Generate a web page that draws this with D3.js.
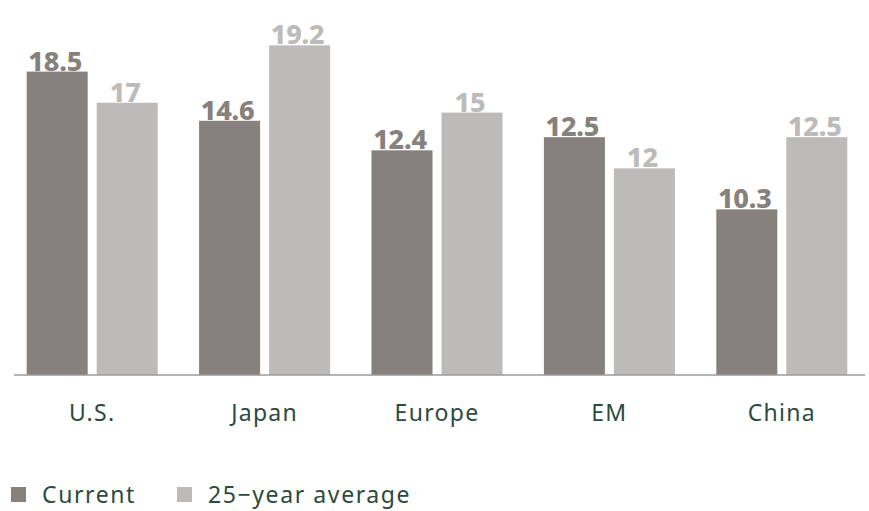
<!DOCTYPE html>
<html>
<head>
<meta charset="utf-8">
<script src="https://cdn.jsdelivr.net/npm/d3@7"></script>
<style>
  body { margin: 0; background: #fff; }
  svg { display: block; }
</style>
</head>
<body>
<svg id="chart"></svg>
<script>
// Data
const categories = ["U.S.", "Japan", "Europe", "EM", "China"];
const seriesNames = ["Current", "25\u2212year average"];
// bar heights as drawn
const currentValues = [18.5, 15.5, 13.7, 14.5, 10.1];
const averageValues = [16.6, 20.1, 16.0, 12.6, 14.5];
// printed value labels
const currentLabels = ["18.5", "14.6", "12.4", "12.5", "10.3"];
const averageLabels = ["17", "19.2", "15", "12", "12.5"];

const W = 869, H = 511;
const COLORS = ["#86817c", "#bcbbb9"];
const TEXT = "#2c4a3d";
const baseY = 375;

const svg = d3.select("#chart").attr("width", W).attr("height", H);

const x = d3.scaleBand().domain(categories).range([6, 868])
  .paddingInner(0.24).paddingOuter(0.12);
const xs = d3.scaleBand().domain([0, 1]).range([0, x.bandwidth()])
  .paddingInner(0.1286);
const y = d3.scaleLinear().domain([0, 20]).range([baseY, 47]);

const rows = categories.map((c, i) => ({
  cat: c,
  bars: [
    { s: 0, v: currentValues[i], label: currentLabels[i] },
    { s: 1, v: averageValues[i], label: averageLabels[i] },
  ],
}));

const groups = svg.selectAll("g.grp").data(rows).join("g")
  .attr("class", "grp")
  .attr("transform", d => `translate(${x(d.cat)},0)`);

groups.selectAll("rect").data(d => d.bars).join("rect")
  .attr("x", d => xs(d.s))
  .attr("y", d => y(d.v))
  .attr("width", xs.bandwidth())
  .attr("height", d => baseY - y(d.v))
  .attr("fill", d => COLORS[d.s]);

groups.selectAll("text.val").data(d => d.bars).join("text")
  .attr("class", "val")
  .attr("x", d => xs(d.s) + xs.bandwidth() / 2 - 2)
  .attr("y", d => y(d.v) - 1)
  .attr("text-anchor", "middle")
  .attr("font-family", "'Noto Sans', sans-serif")
  .attr("font-weight", 800)
  .attr("font-size", 27)
  .attr("letter-spacing", -0.2)
  .attr("fill", d => COLORS[d.s])
  .text(d => d.label);

// Baseline
svg.append("line")
  .attr("x1", 14).attr("x2", 865)
  .attr("y1", baseY).attr("y2", baseY)
  .attr("stroke", "#9b9b9b").attr("stroke-width", 1.5);

// Category axis
const axis = svg.append("g")
  .attr("transform", `translate(0,${baseY})`)
  .call(d3.axisBottom(x).tickSize(0).tickPadding(30));
axis.select(".domain").remove();
axis.selectAll("text")
  .attr("font-family", "'Noto Sans', sans-serif")
  .attr("font-size", 23)
  .attr("letter-spacing", 1.3)
  .attr("fill", TEXT);

// Legend
const legendX = [11, 177];
const legend = svg.append("g").selectAll("g").data(seriesNames).join("g")
  .attr("transform", (d, i) => `translate(${legendX[i]},487)`);
legend.append("rect")
  .attr("width", 15).attr("height", 15)
  .attr("fill", (d, i) => COLORS[i]);
legend.append("text")
  .attr("x", 31).attr("y", 16)
  .attr("font-family", "'Noto Sans', sans-serif")
  .attr("font-size", 23)
  .attr("letter-spacing", 1.6)
  .attr("fill", TEXT)
  .text(d => d);
</script>
</body>
</html>
